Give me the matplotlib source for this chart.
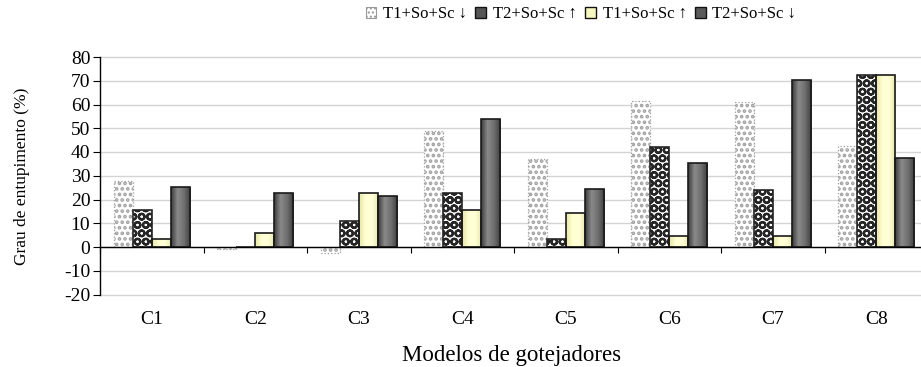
import numpy as np
import matplotlib
matplotlib.use('Agg')
import matplotlib.pyplot as plt
from matplotlib.colors import LinearSegmentedColormap
from matplotlib.patches import Patch

plt.rcParams['font.family'] = ['Liberation Serif', 'DejaVu Serif']
plt.rcParams['axes.unicode_minus'] = False

# dados
categorias = ['C1', 'C2', 'C3', 'C4', 'C5', 'C6', 'C7', 'C8']
series = ['T1+So+Sc \u2193', 'T2+So+Sc \u2191', 'T1+So+Sc \u2191', 'T2+So+Sc \u2193']
t1_desce = [27.8, -0.8, -2.4, 48.9, 37.1, 61.3, 61.0, 42.5]
t2_sobe = [15.5, 0.0, 10.8, 22.9, 3.4, 41.9, 24.1, 72.3]
t1_sobe = [3.2, 5.9, 22.9, 15.5, 14.5, 4.5, 4.5, 72.3]
t2_desce = [25.2, 22.9, 21.4, 53.7, 24.6, 35.2, 70.2, 37.3]
yticks = np.arange(-20, 81, 10)


def gradiente(ax, barras, cores):
    # preenchimento "cilindrico" estilo Excel
    cmap = LinearSegmentedColormap.from_list('g', cores)
    grad = np.linspace(0, 1, 64).reshape(1, -1)
    for b in barras:
        x0, y0 = b.get_x(), b.get_y()
        w, h = b.get_width(), b.get_height()
        if h == 0:
            continue
        im = ax.imshow(grad, cmap=cmap, aspect='auto', extent=(x0, x0 + w, y0, y0 + h),
                       zorder=b.get_zorder() - 0.1, interpolation='bilinear')
        im.set_clip_path(b)


fig = plt.figure(figsize=(9.21, 3.67), dpi=100)
ax = fig.add_axes([100 / 921, 72.5 / 367, 828 / 921, 237.5 / 367])

x = np.arange(len(categorias))
w = 0.184

with plt.rc_context({'hatch.linewidth': 1.8}):
    b1 = ax.bar(x - 1.5 * w, t1_desce, w, facecolor='white', edgecolor='#a0a0a0',
                hatch='...', linestyle=':', linewidth=0.9, zorder=3, label=series[0])
with plt.rc_context({'hatch.linewidth': 1.6}):
    b2 = ax.bar(x - 0.5 * w, t2_sobe, w, facecolor='white', edgecolor='#262626',
                hatch='OO', linewidth=1.2, zorder=3, label=series[1])
b3 = ax.bar(x + 0.5 * w, t1_sobe, w, facecolor='none', edgecolor='#1a1a1a',
            linewidth=1.2, zorder=3, label=series[2])
b4 = ax.bar(x + 1.5 * w, t2_desce, w, facecolor='none', edgecolor='#1a1a1a',
            linewidth=1.2, zorder=3, label=series[3])
gradiente(ax, b3, ['#e6e6a8', '#ffffd2', '#ffffd8', '#e6e6a8'])
gradiente(ax, b4, ['#3c3c3c', '#8a8a8a', '#6e6e6e', '#3c3c3c'])

ax.set_xlim(-0.5, len(categorias) - 0.5)
ax.set_ylim(-20, 80)
ax.set_yticks(yticks)
ax.grid(axis='y', color='#d4d4d4', linewidth=1, zorder=0)
ax.set_axisbelow(True)
for gl in ax.get_ygridlines():
    gl.set_clip_on(False)

for s in ['top', 'right']:
    ax.spines[s].set_visible(False)
ax.spines['bottom'].set_position(('data', 0))
ax.spines['bottom'].set_linewidth(1)
ax.spines['left'].set_linewidth(1)
ax.spines['bottom'].set_zorder(4)

ax.set_xticks(np.arange(len(categorias) + 1) - 0.5)
ax.set_xticklabels([])
ax.tick_params(axis='x', direction='out', length=4, width=0.8)
ax.tick_params(axis='y', direction='out', length=5, width=0.8, labelsize=14, pad=2)

for i, c in enumerate(categorias):
    ax.text(i, -0.107, c, transform=ax.get_xaxis_transform(), ha='center', va='center', fontsize=14)

fig.text(22 / 921, 1 - 176 / 367, 'Grau de entupimento (%)', rotation=90, ha='center', va='center',
         fontsize=12.5)
fig.text(512 / 921, 1 - 355 / 367, 'Modelos de gotejadores', ha='center', va='center', fontsize=16.5)

# legenda
hs = [Patch(facecolor='white', edgecolor='#9a9a9a', hatch='....', linewidth=0.8),
      Patch(facecolor='#555555', edgecolor='#111111', linewidth=1),
      Patch(facecolor='#f6f6c0', edgecolor='#111111', linewidth=1),
      Patch(facecolor='#5a5a5a', edgecolor='#111111', linewidth=1)]
fig.legend(hs, series, loc='center', bbox_to_anchor=(581 / 921, 1 - 14 / 367), ncol=4,
           frameon=False, fontsize=12, handlelength=0.65, handleheight=0.65,
           handletextpad=0.4, columnspacing=0.5)

fig.savefig('out.png', dpi=100)
